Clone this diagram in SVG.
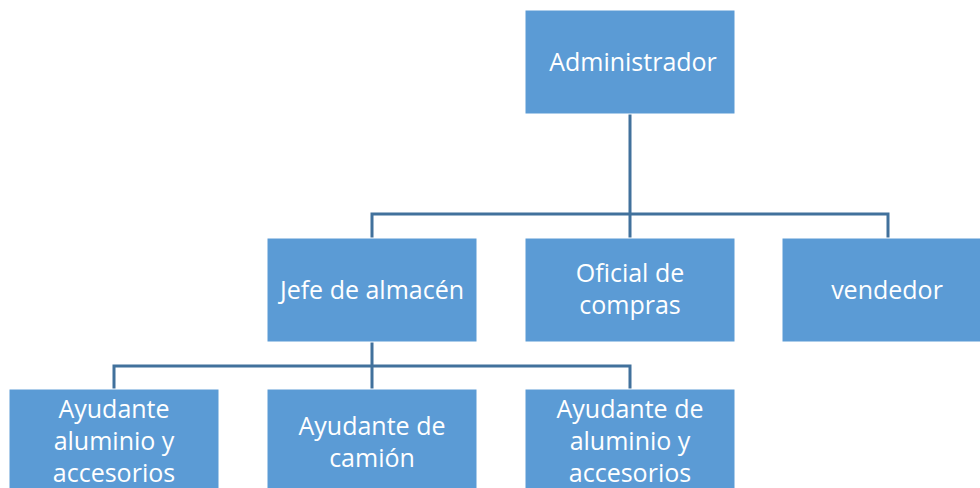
<svg xmlns="http://www.w3.org/2000/svg" width="980" height="488" viewBox="0 0 980 488">
<style>
.box{fill:#5B9BD5;stroke:#FFFFFF;stroke-width:1}
.t{font-family:"Open Sans","Liberation Sans",sans-serif;font-size:25px;fill:#FFFFFF;text-anchor:middle}
.c{fill:none;stroke:#41719C;stroke-width:3}
</style>
<rect width="980" height="488" fill="#FFFFFF"/>
<g id="connectors">
<path class="c" d="M630 114 V214 M372 238 V214 H888 V238 M630 214 V238"/>
<path class="c" d="M372 342 V366 M114 389 V366 H630 V389 M372 366 V389"/>
</g>
<g id="administrador">
<rect class="box" x="525" y="10" width="210" height="104"/>
<text class="t" x="633" y="71">Administrador</text>
</g>
<g id="jefe">
<rect class="box" x="267" y="238" width="210" height="104"/>
<text class="t" x="372" y="299">Jefe de almacén</text>
</g>
<g id="oficial">
<rect class="box" x="525" y="238" width="210" height="104"/>
<text class="t" x="630" y="282">Oficial de</text>
<text class="t" x="630" y="314">compras</text>
</g>
<g id="vendedor">
<rect class="box" x="782" y="238" width="210" height="104"/>
<text class="t" x="887" y="299">vendedor</text>
</g>
<g id="ayudante1">
<rect class="box" x="9" y="389" width="210" height="104"/>
<text class="t" x="114" y="418">Ayudante</text>
<text class="t" x="114" y="450">aluminio y</text>
<text class="t" x="114" y="482">accesorios</text>
</g>
<g id="ayudante2">
<rect class="box" x="267" y="389" width="210" height="104"/>
<text class="t" x="372" y="435">Ayudante de</text>
<text class="t" x="372" y="467">camión</text>
</g>
<g id="ayudante3">
<rect class="box" x="525" y="389" width="210" height="104"/>
<text class="t" x="630" y="418">Ayudante de</text>
<text class="t" x="630" y="450">aluminio y</text>
<text class="t" x="630" y="482">accesorios</text>
</g>
</svg>
